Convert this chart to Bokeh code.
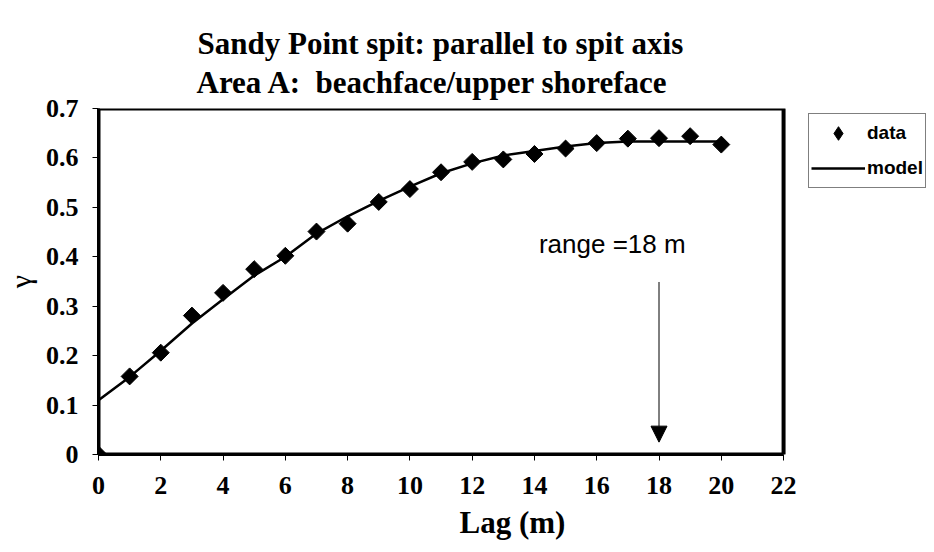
import numpy as np
from bokeh.plotting import figure
from bokeh.models import (Range1d, Legend, LegendItem, Arrow, NormalHead,
                          Label, FixedTicker, Title, BoxAnnotation)
from bokeh.embed import file_html
from bokeh.resources import INLINE

# ---- data ----
lag = [0, 1, 2, 3, 4, 5, 6, 7, 8, 9, 10, 11, 12, 13, 14, 15, 16, 17, 18, 19, 20]
gamma_data = [0.0, 0.158, 0.206, 0.281, 0.327, 0.375, 0.402, 0.451, 0.467, 0.511,
              0.537, 0.571, 0.592, 0.597, 0.608, 0.619, 0.630, 0.639, 0.640, 0.644, 0.627]
model_lag = [0, 1, 2, 3, 4, 5, 6, 7, 8, 9, 10, 11, 12, 13, 14, 15, 16, 17, 18, 19, 20]
gamma_model = [0.11, 0.157, 0.21, 0.265, 0.314, 0.362, 0.40, 0.447, 0.482, 0.513,
               0.542, 0.569, 0.589, 0.605, 0.614, 0.623, 0.630, 0.633, 0.633, 0.633, 0.633]

x_ticks = [0, 2, 4, 6, 8, 10, 12, 14, 16, 18, 20, 22]
y_ticks = [0, 0.1, 0.2, 0.3, 0.4, 0.5, 0.6, 0.7]
y_tick_labels = ["0", "0.1", "0.2", "0.3", "0.4", "0.5", "0.6", "0.7"]
x_min, x_max = 0, 22
y_min, y_max = 0, 0.7
x_view_max = 26.59   # extra room right of the axes for the legend box

range_value = 18
arrow_top = 0.349
arrow_tip = 0.025
range_text = "range =18 m"
range_text_x = 16.5
range_text_y = 0.425

title_line1 = "Sandy Point spit: parallel to spit axis"
title_line2 = "Area A:\u00a0 beachface/upper shoreface"

SERIF = "Liberation Serif"
SANS = "Liberation Sans"

p = figure(width=926, height=544, output_backend="svg", toolbar_location=None,
           x_range=Range1d(x_min, x_view_max), y_range=Range1d(y_min, y_max),
           min_border_left=93, min_border_right=0, min_border_top=108,
           min_border_bottom=90, background_fill_color="white",
           border_fill_color="white")

# outer title line, then the inner one nearer the axes box
p.title = Title(text=title_line1, align="left", offset=99, text_font=SERIF,
                text_font_style="bold", text_font_size="31px", standoff=-14,
                text_color="black")
p.add_layout(Title(text=title_line2, align="left", offset=98, text_font=SERIF,
                   text_font_style="bold", text_font_size="31px", standoff=18,
                   text_color="black"),
             "above")

p.xgrid.visible = False
p.ygrid.visible = False
p.outline_line_color = None
p.add_layout(BoxAnnotation(left=x_min, right=x_max, bottom=y_min, top=y_max,
                           fill_color=None, fill_alpha=0, line_color="black",
                           line_alpha=1, line_width=4))

# axes
p.xaxis.ticker = FixedTicker(ticks=x_ticks)
p.xaxis.bounds = (x_min, x_max)
p.yaxis.ticker = FixedTicker(ticks=y_ticks)
p.yaxis.major_label_overrides = {t: l for t, l in zip(y_ticks, y_tick_labels)}
for ax in (p.xaxis[0], p.yaxis[0]):
    ax.axis_line_width = 3
    ax.axis_line_color = "black"
    ax.major_tick_in = 0
    ax.major_tick_out = 6
    ax.minor_tick_in = 0
    ax.minor_tick_out = 0
    ax.major_tick_line_color = "black"
    ax.major_tick_line_width = 1
    ax.major_label_text_font = SERIF
    ax.major_label_text_font_style = "bold"
    ax.major_label_text_color = "black"
    ax.axis_label_text_color = "black"

p.xaxis.major_label_text_font_size = "26px"
p.yaxis.major_label_text_font_size = "26px"
p.xaxis.major_label_standoff = 16
p.yaxis.major_label_standoff = 14
p.xaxis.axis_label = "Lag (m)"
p.xaxis.axis_label_text_font = SERIF
p.xaxis.axis_label_text_font_style = "bold"
p.xaxis.axis_label_text_font_size = "31px"
p.xaxis.axis_label_standoff = 8
p.yaxis.axis_label = "γ"
p.yaxis.axis_label_text_font = SERIF
p.yaxis.axis_label_text_font_style = "normal"
p.yaxis.axis_label_text_font_size = "30px"
p.yaxis.axis_label_standoff = 6

# legend key for the data (legend markers are drawn unrotated); it sits
# hidden under the first data point
data_key = p.scatter(x=lag[:1], y=gamma_data[:1], marker="diamond", size=12,
                     fill_color="black", line_color="black")
# model line and data points
model_r = p.line(model_lag, gamma_model, line_color="black", line_width=2.5)
data_r = p.scatter(lag, gamma_data, marker="square", angle=np.pi / 4, size=12,
                   fill_color="black", line_color="black")

# range annotation
p.add_layout(Arrow(end=NormalHead(size=16, fill_color="black", line_color="black"),
                   x_start=range_value, y_start=arrow_top,
                   x_end=range_value, y_end=arrow_tip,
                   line_color="black", line_width=1))
p.add_layout(Label(x=range_text_x, y=range_text_y, text=range_text,
                   text_align="center", text_baseline="middle",
                   text_font=SANS, text_font_size="26px", text_color="black"))

legend = Legend(items=[LegendItem(label="data", renderers=[data_key]),
                       LegendItem(label="model", renderers=[model_r])],
                location=(710, 266), border_line_color="black", border_line_width=1,
                background_fill_color="white", background_fill_alpha=1,
                label_text_font=SANS, label_text_font_style="bold",
                label_text_color="black",
                label_text_font_size="19px", glyph_width=54, glyph_height=34,
                label_standoff=2, spacing=1, padding=2, margin=0)
p.add_layout(legend, "center")

open("out.html", "w").write(file_html(p, INLINE))
